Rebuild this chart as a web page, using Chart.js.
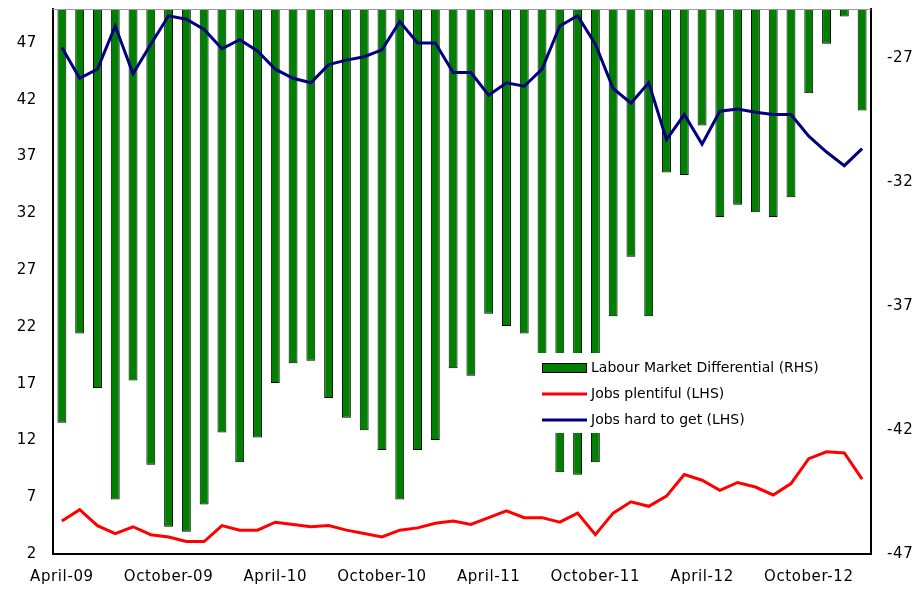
<!DOCTYPE html>
<html>
<head>
<meta charset="utf-8">
<script src="https://cdn.jsdelivr.net/npm/chart.js@4/dist/chart.umd.min.js"></script>
<style>
    html, body { margin: 0; padding: 0; background: #fff; }
    #wrap { width: 918px; height: 589px; }
</style>
</head>
<body>
<div id="wrap"><canvas id="labourChart" width="918" height="589"></canvas></div>
<script>
// Monthly survey, April 2009 - January 2013
const months = [
    'April-09', 'May-09', 'June-09', 'July-09', 'August-09', 'September-09',
    'October-09', 'November-09', 'December-09', 'January-10', 'February-10', 'March-10',
    'April-10', 'May-10', 'June-10', 'July-10', 'August-10', 'September-10',
    'October-10', 'November-10', 'December-10', 'January-11', 'February-11', 'March-11',
    'April-11', 'May-11', 'June-11', 'July-11', 'August-11', 'September-11',
    'October-11', 'November-11', 'December-11', 'January-12', 'February-12', 'March-12',
    'April-12', 'May-12', 'June-12', 'July-12', 'August-12', 'September-12',
    'October-12', 'November-12', 'December-12', 'January-13'
];

// Labour market differential (RHS)
const differential = [
    -41.7, -38.1, -40.3, -44.8, -40.0, -43.4, -45.9, -46.1, -45.0, -42.1, -43.3, -42.3,
    -40.1, -39.3, -39.2, -40.7, -41.5, -42.0, -42.8, -44.8, -42.8, -42.4, -39.5, -39.8,
    -37.3, -37.8, -38.1, -39.5, -43.7, -43.8, -43.3, -37.4, -35.0, -37.4, -31.6, -31.7,
    -29.7, -33.4, -32.9, -33.2, -33.4, -32.6, -28.4, -26.4, -25.3, -29.1
];

// Jobs plentiful (LHS)
const jobsPlentiful = [
    4.9, 5.9, 4.5, 3.8, 4.4, 3.7, 3.5, 3.1, 3.1, 4.5, 4.1, 4.1,
    4.8, 4.6, 4.4, 4.5, 4.1, 3.8, 3.5, 4.1, 4.3, 4.7, 4.9, 4.6,
    5.2, 5.8, 5.2, 5.2, 4.8, 5.6, 3.7, 5.6, 6.6, 6.2, 7.1, 9.0,
    8.5, 7.6, 8.3, 7.9, 7.2, 8.2, 10.4, 11.0, 10.9, 8.6
];

// Jobs hard to get (LHS)
const jobsHardToGet = [
    46.6, 43.9, 44.7, 48.5, 44.3, 46.9, 49.4, 49.1, 48.2, 46.5, 47.3, 46.3,
    44.7, 43.9, 43.5, 45.1, 45.5, 45.8, 46.4, 48.9, 47.0, 47.0, 44.4, 44.4,
    42.4, 43.5, 43.2, 44.7, 48.5, 49.4, 46.9, 43.0, 41.7, 43.5, 38.5, 40.7,
    38.1, 41.0, 41.2, 40.9, 40.7, 40.7, 38.8, 37.4, 36.2, 37.7
];

const leftTicks = [2, 7, 12, 17, 22, 27, 32, 37, 42, 47];
const rightTicks = [-47, -42, -37, -32, -27];

const FONT = 'DejaVu Sans';

// slightly looser lettering, like the original export
const spacing = {
    id: 'spacing',
    beforeDraw(chart) {
        chart.ctx.letterSpacing = '0.6px';
    }
};

// legend drawn inside the plot on a white box, like the original
const boxLegend = {
    id: 'boxLegend',
    afterDatasetsDraw(chart) {
        const { ctx, chartArea: ca } = chart;
        const x0 = ca.left + 483;
        const y0 = ca.top + 344;
        ctx.save();
        ctx.letterSpacing = '0px';
        ctx.fillStyle = '#fff';
        ctx.fillRect(x0, y0, 290, 80);

        // top frame line
        ctx.strokeStyle = '#999';
        ctx.lineWidth = 1;
        ctx.beginPath();
        ctx.moveTo(ca.left, ca.top + 0.5);
        ctx.lineTo(ca.right, ca.top + 0.5);
        ctx.stroke();

        const symX = x0 + 6;
        const symW = 45;
        const textX = x0 + 55;
        const rows = [y0 + 15, y0 + 41, y0 + 67];

        ctx.fillStyle = '#008000';
        ctx.fillRect(symX, rows[0] - 5, symW, 10);
        ctx.strokeStyle = '#000';
        ctx.lineWidth = 1;
        ctx.strokeRect(symX + 0.5, rows[0] - 4.5, symW - 1, 9);

        ctx.lineWidth = 3;
        ctx.strokeStyle = '#ff0000';
        ctx.beginPath();
        ctx.moveTo(symX, rows[1]);
        ctx.lineTo(symX + symW, rows[1]);
        ctx.stroke();
        ctx.strokeStyle = '#000080';
        ctx.beginPath();
        ctx.moveTo(symX, rows[2]);
        ctx.lineTo(symX + symW, rows[2]);
        ctx.stroke();

        ctx.fillStyle = '#000';
        ctx.font = '14px "' + FONT + '"';
        ctx.textBaseline = 'middle';
        ctx.textAlign = 'left';
        ctx.fillText('Labour Market Differential (RHS)', textX, rows[0]);
        ctx.fillText('Jobs plentiful (LHS)', textX, rows[1]);
        ctx.fillText('Jobs hard to get (LHS)', textX, rows[2]);
        ctx.restore();
    }
};

const noEdgePadding = (scale) => {
    scale.paddingTop = 0;
    scale.paddingBottom = 0;
    scale.paddingLeft = 0;
    scale.paddingRight = 0;
};

const ctx = document.getElementById('labourChart').getContext('2d');
new Chart(ctx, {
    type: 'bar',
    data: {
        labels: months,
        datasets: [
            {
                label: 'Jobs plentiful (LHS)',
                type: 'line',
                data: jobsPlentiful,
                borderColor: '#ff0000',
                borderWidth: 3,
                pointRadius: 0,
                tension: 0,
                yAxisID: 'y',
                order: 1
            },
            {
                label: 'Jobs hard to get (LHS)',
                type: 'line',
                data: jobsHardToGet,
                borderColor: '#000080',
                borderWidth: 3,
                pointRadius: 0,
                tension: 0,
                yAxisID: 'y',
                order: 0
            },
            {
                label: 'Labour Market Differential (RHS)',
                data: differential,
                base: -25,
                backgroundColor: '#008000',
                borderColor: '#000',
                borderWidth: 1,
                barPercentage: 0.5,
                categoryPercentage: 1,
                yAxisID: 'y1',
                order: 2
            }
        ]
    },
    options: {
        responsive: false,
        animation: false,
        layout: { padding: { top: 9, left: 0, right: 0, bottom: 0 } },
        plugins: {
            legend: { display: false },
            tooltip: { enabled: false }
        },
        scales: {
            x: {
                grid: { display: false, drawTicks: false },
                border: { display: true, color: '#000', width: 2 },
                ticks: {
                    autoSkip: false,
                    maxRotation: 0,
                    padding: 14,
                    color: '#000',
                    font: { family: FONT, size: 15 },
                    callback: function (value, index) {
                        return index % 6 === 0 ? this.getLabelForValue(value) : null;
                    }
                },
                afterFit: (scale) => { scale.height = 35; noEdgePadding(scale); }
            },
            y: {
                position: 'left',
                min: 2,
                max: 50,
                grid: { display: false, drawTicks: false },
                border: { display: true, color: '#000', width: 2 },
                ticks: {
                    padding: 16,
                    color: '#000',
                    font: { family: FONT, size: 15 }
                },
                afterBuildTicks: (axis) => { axis.ticks = leftTicks.map(v => ({ value: v })); },
                afterFit: (scale) => { scale.width = 53; noEdgePadding(scale); }
            },
            y1: {
                position: 'right',
                min: -47,
                max: -25,
                grid: { display: false, drawTicks: false },
                border: { display: true, color: '#000', width: 2 },
                ticks: {
                    padding: 16,
                    color: '#000',
                    font: { family: FONT, size: 15 }
                },
                afterBuildTicks: (axis) => { axis.ticks = rightTicks.map(v => ({ value: v })); },
                afterFit: (scale) => { scale.width = 47; noEdgePadding(scale); }
            }
        }
    },
    plugins: [spacing, boxLegend]
});
</script>
</body>
</html>
